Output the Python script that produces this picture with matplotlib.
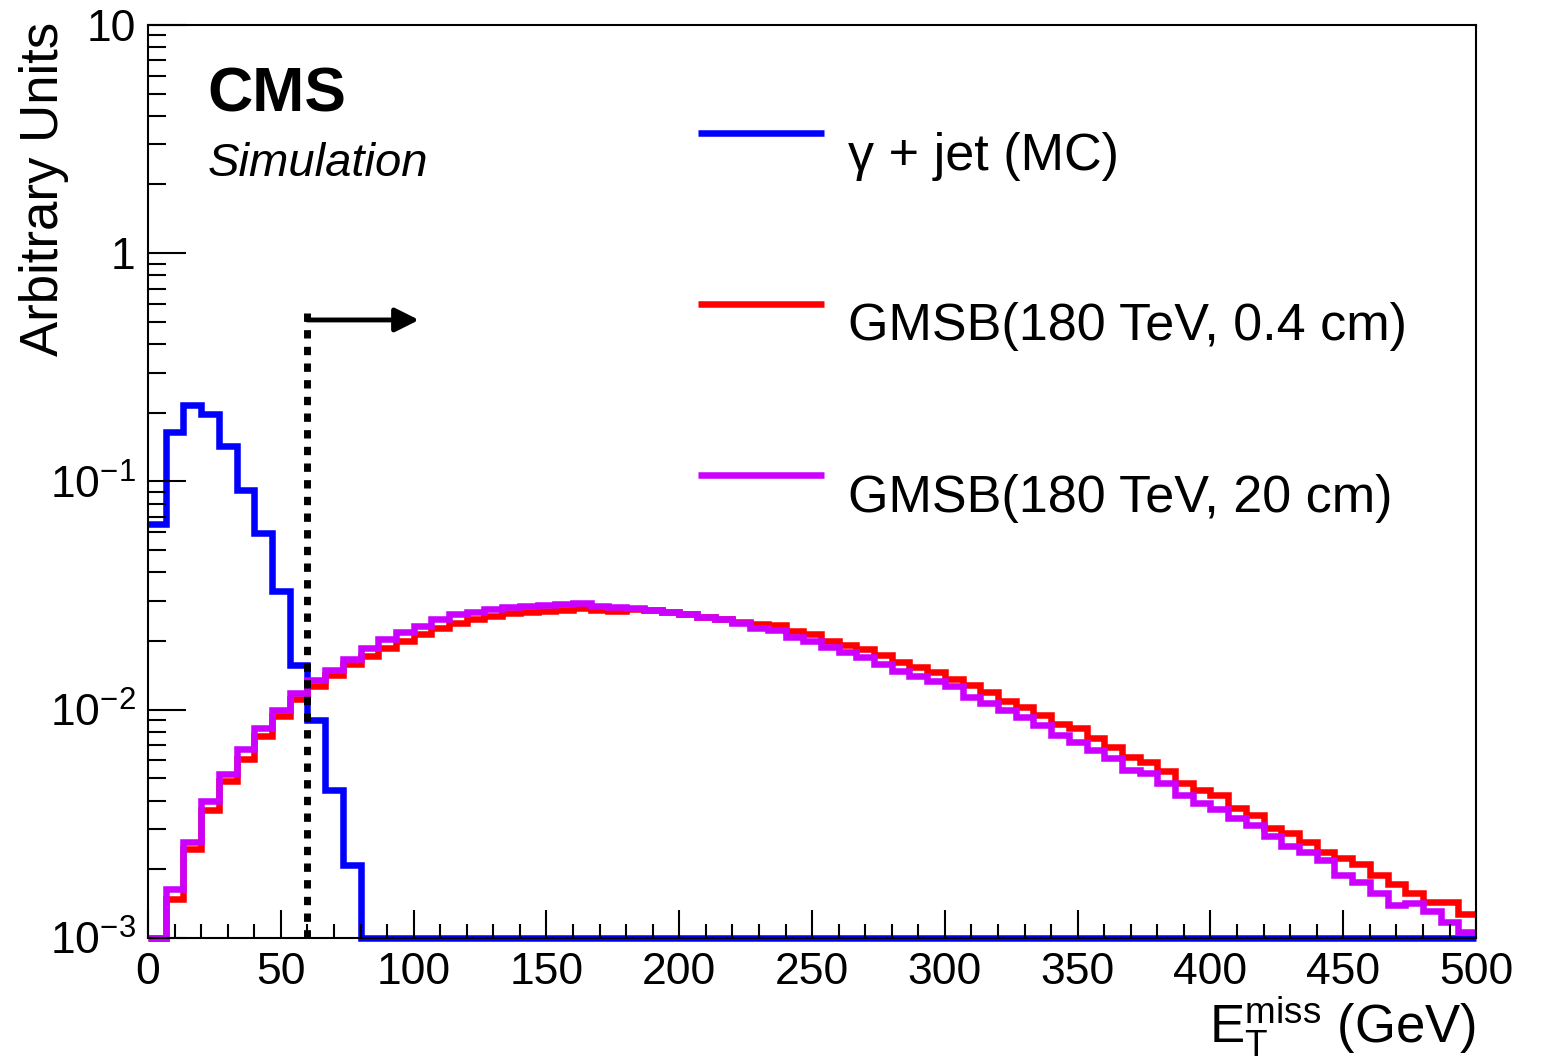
import numpy as np
import matplotlib
matplotlib.use("Agg")
import matplotlib.pyplot as plt
from matplotlib.ticker import LogLocator, MultipleLocator, NullFormatter

plt.rcParams['font.family'] = ['Liberation Sans', 'DejaVu Sans']
plt.rcParams['mathtext.fontset'] = 'custom'
plt.rcParams['mathtext.rm'] = 'Liberation Sans'
plt.rcParams['mathtext.it'] = 'Liberation Sans:italic'
plt.rcParams['mathtext.bf'] = 'Liberation Sans:bold'

# binning: 75 bins from 0 to 500 GeV
x_min, x_max, n_bins = 0, 500, 75
edges = np.linspace(x_min, x_max, n_bins + 1)

# gamma + jet (MC)
gjet = [0.0650, 0.165, 0.216, 0.197, 0.143, 0.0917, 0.0594, 0.0331, 0.0157, 0.00901,
        0.00445, 0.00209, 0.0, 0.0, 0.0, 0.0, 0.0, 0.0, 0.0, 0.0,
        0.0, 0.0, 0.0, 0.0, 0.0, 0.0, 0.0, 0.0, 0.0, 0.0,
        0.0, 0.0, 0.0, 0.0, 0.0, 0.0, 0.0, 0.0, 0.0, 0.0,
        0.0, 0.0, 0.0, 0.0, 0.0, 0.0, 0.0, 0.0, 0.0, 0.0,
        0.0, 0.0, 0.0, 0.0, 0.0, 0.0, 0.0, 0.0, 0.0, 0.0,
        0.0, 0.0, 0.0, 0.0, 0.0, 0.0, 0.0, 0.0, 0.0, 0.0,
        0.0, 0.0, 0.0, 0.0, 0.0]

# GMSB(180 TeV, 0.4 cm)
gmsb_04 = [0.0, 0.00148, 0.00245, 0.00364, 0.00487, 0.00608, 0.00767, 0.00938, 0.0111, 0.0127,
           0.0142, 0.0159, 0.0172, 0.0186, 0.0200, 0.0215, 0.0228, 0.0240, 0.0250, 0.0257,
           0.0265, 0.0268, 0.0271, 0.0273, 0.0279, 0.0273, 0.0271, 0.0276, 0.0273, 0.0268,
           0.0262, 0.0255, 0.0250, 0.0242, 0.0237, 0.0235, 0.0221, 0.0215, 0.0200, 0.0192,
           0.0184, 0.0174, 0.0162, 0.0154, 0.0146, 0.0136, 0.0128, 0.0120, 0.0109, 0.0103,
           0.00948, 0.00866, 0.00831, 0.00752, 0.00686, 0.00620, 0.00590, 0.00539, 0.00477, 0.00445,
           0.00423, 0.00371, 0.00346, 0.00303, 0.00288, 0.00263, 0.00238, 0.00224, 0.00211, 0.00189,
           0.00172, 0.00157, 0.00144, 0.00144, 0.00127]

# GMSB(180 TeV, 20 cm)
gmsb_20 = [0.0, 0.00164, 0.00263, 0.00398, 0.00523, 0.00673, 0.00831, 0.00997, 0.0118, 0.0135,
           0.0149, 0.0167, 0.0186, 0.0204, 0.0219, 0.0233, 0.0250, 0.0262, 0.0268, 0.0276,
           0.0282, 0.0285, 0.0287, 0.0290, 0.0293, 0.0285, 0.0282, 0.0279, 0.0273, 0.0268,
           0.0262, 0.0255, 0.0250, 0.0240, 0.0228, 0.0223, 0.0208, 0.0200, 0.0188, 0.0179,
           0.0170, 0.0159, 0.0148, 0.0140, 0.0134, 0.0127, 0.0114, 0.0107, 0.00997, 0.00929,
           0.00857, 0.00775, 0.00722, 0.00666, 0.00614, 0.00544, 0.00528, 0.00477, 0.00423, 0.00390,
           0.00367, 0.00335, 0.00313, 0.00280, 0.00253, 0.00238, 0.00220, 0.00189, 0.00176, 0.00157,
           0.00139, 0.00142, 0.00131, 0.00118, 0.00106]

series = [(gjet, '#0000ff', 'γ + jet (MC)'),
          (gmsb_04, '#ff0000', 'GMSB(180 TeV, 0.4 cm)'),
          (gmsb_20, '#cc00ff', 'GMSB(180 TeV, 20 cm)')]

y_min, y_max = 1e-3, 10
met_cut = 60        # GeV
cut_top = 0.56
arrow_end = 102
arrow_y = 0.51

fig = plt.figure(figsize=(15.44, 10.62), dpi=100)
ax = fig.add_axes([0.0959, 0.1168, 0.8601, 0.8597])

for vals, col, lab in series:
    # zero bins are drawn at the bottom of the frame, ROOT style
    v = np.clip(np.array(vals), y_min, None)
    ax.stairs(v, edges, baseline=None, color=col, lw=4.7, clip_on=False)

ax.plot([met_cut, met_cut], [y_min, cut_top], color='black', lw=5,
        dashes=(1.2, 1.2), solid_capstyle='butt')
ax.annotate('', xy=(arrow_end, arrow_y), xytext=(met_cut, arrow_y),
            arrowprops=dict(arrowstyle='-|>,head_length=0.4,head_width=0.2',
                            color='black', lw=3.5, mutation_scale=36,
                            shrinkA=0, shrinkB=0))

ax.set_yscale('log')
ax.set_xlim(x_min, x_max)
ax.set_ylim(y_min, y_max)

ax.xaxis.set_major_locator(MultipleLocator(50))
ax.xaxis.set_minor_locator(MultipleLocator(10))
ax.set_yticks([1e-3, 1e-2, 1e-1, 1, 10],
              [r'$10^{-3}$', r'$10^{-2}$', r'$10^{-1}$', '1', '10'])
ax.yaxis.set_minor_locator(LogLocator(base=10, subs=range(2, 10)))
ax.yaxis.set_minor_formatter(NullFormatter())

ax.tick_params(axis='both', which='both', direction='in', top=False, right=False,
               width=1.5, colors='black')
ax.tick_params(axis='x', which='major', length=20, pad=10, labelsize=32)
ax.tick_params(axis='x', which='minor', length=10)
ax.tick_params(axis='y', which='major', length=27, pad=9, labelsize=32)
ax.tick_params(axis='y', which='minor', length=13)
for sp in ax.spines.values():
    sp.set_linewidth(1.5)

fig.text(0.0288, 0.9793, 'Arbitrary Units', rotation=90, ha='center', va='top',
         fontsize=38)
fig.text(0.956, 0.018, r'$\mathrm{E}_{\mathrm{T}}^{\mathrm{miss}}$ (GeV)',
         ha='right', va='baseline', fontsize=38)

ax.text(0.045, 0.9047, 'CMS', transform=ax.transAxes, fontsize=45,
        fontweight='bold', va='baseline')
ax.text(0.045, 0.8346, 'Simulation', transform=ax.transAxes, fontsize=34,
        style='italic', va='baseline')

# legend, drawn by hand to keep the ROOT layout
leg_line_y = [0.8821, 0.6944, 0.5071]
leg_text_y = [0.8412, 0.6550, 0.4666]
for (vals, col, lab), ly, ty in zip(series, leg_line_y, leg_text_y):
    ax.plot([0.414, 0.509], [ly, ly], color=col, lw=4.7, transform=ax.transAxes,
            solid_capstyle='butt')
    ax.text(0.527, ty, lab, transform=ax.transAxes, fontsize=37.5, va='baseline')

fig.savefig('out.png', dpi=100)
